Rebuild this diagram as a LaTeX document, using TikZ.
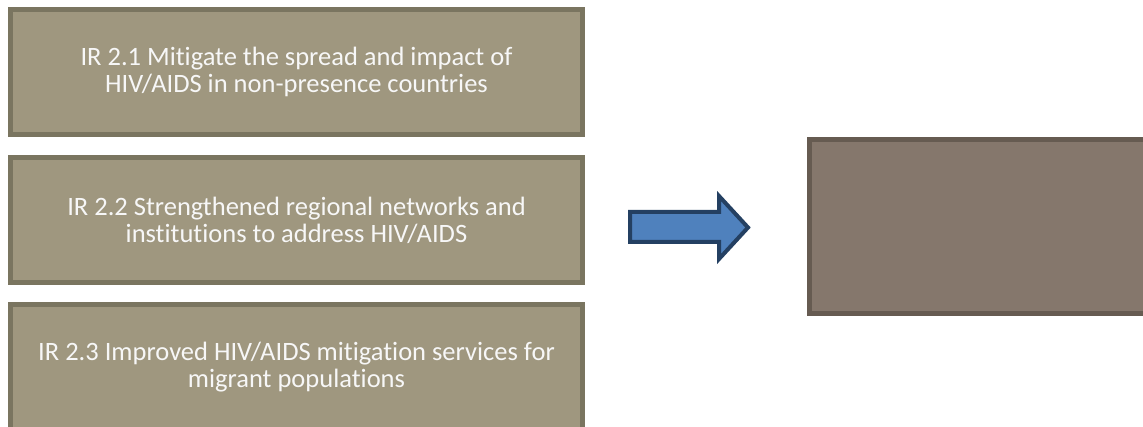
\documentclass[tikz,border=0pt]{standalone}
\usepackage{fontspec}
\setmainfont[Ligatures={NoCommon}]{Carlito}
\definecolor{boxfill}{RGB}{159,151,127}
\definecolor{boxline}{RGB}{122,117,96}
\definecolor{goalfill}{RGB}{133,119,108}
\definecolor{goalline}{RGB}{102,91,81}
\definecolor{arrfill}{RGB}{79,129,189}
\definecolor{arrline}{RGB}{36,64,98}
\begin{document}
\begin{tikzpicture}[x=1pt,y=-1pt,
  irbox/.style={draw=boxline, fill=boxfill, line width=5pt, minimum width=572pt, minimum height=125pt,
    inner sep=0pt, text=white!97!black, align=center, font=\fontsize{26.5}{27}\selectfont},
  goalbox/.style={draw=goalline, fill=goalfill, line width=5pt, minimum width=350pt, minimum height=174pt, inner sep=0pt},
  blockarrow/.style={draw=arrline, fill=arrfill, line width=4pt, miter limit=10}]
\useasboundingbox[clip] (0,0) rectangle (1143,427);
\fill[white] (0,0) rectangle (1143,427);
\node[irbox] (ir1) at (296.5,72) {IR 2.1 Mitigate the spread and impact of\\HIV/AIDS in non-presence countries};
\node[irbox] (ir2) at (296.5,220) {IR 2.2 Strengthened regional networks and\\institutions to address HIV/AIDS};
\node[irbox] (ir3) at (296.5,367) {IR 2.3 Improved HIV/AIDS mitigation services for\\migrant populations};
\node[goalbox, anchor=west] (goal) at (806.5,226.5) {};
\draw[blockarrow] (630,212) -- (719,212) -- (719,196) -- (748,227.5) -- (719,259) -- (719,242) -- (630,242) -- cycle;
\end{tikzpicture}
\end{document}
